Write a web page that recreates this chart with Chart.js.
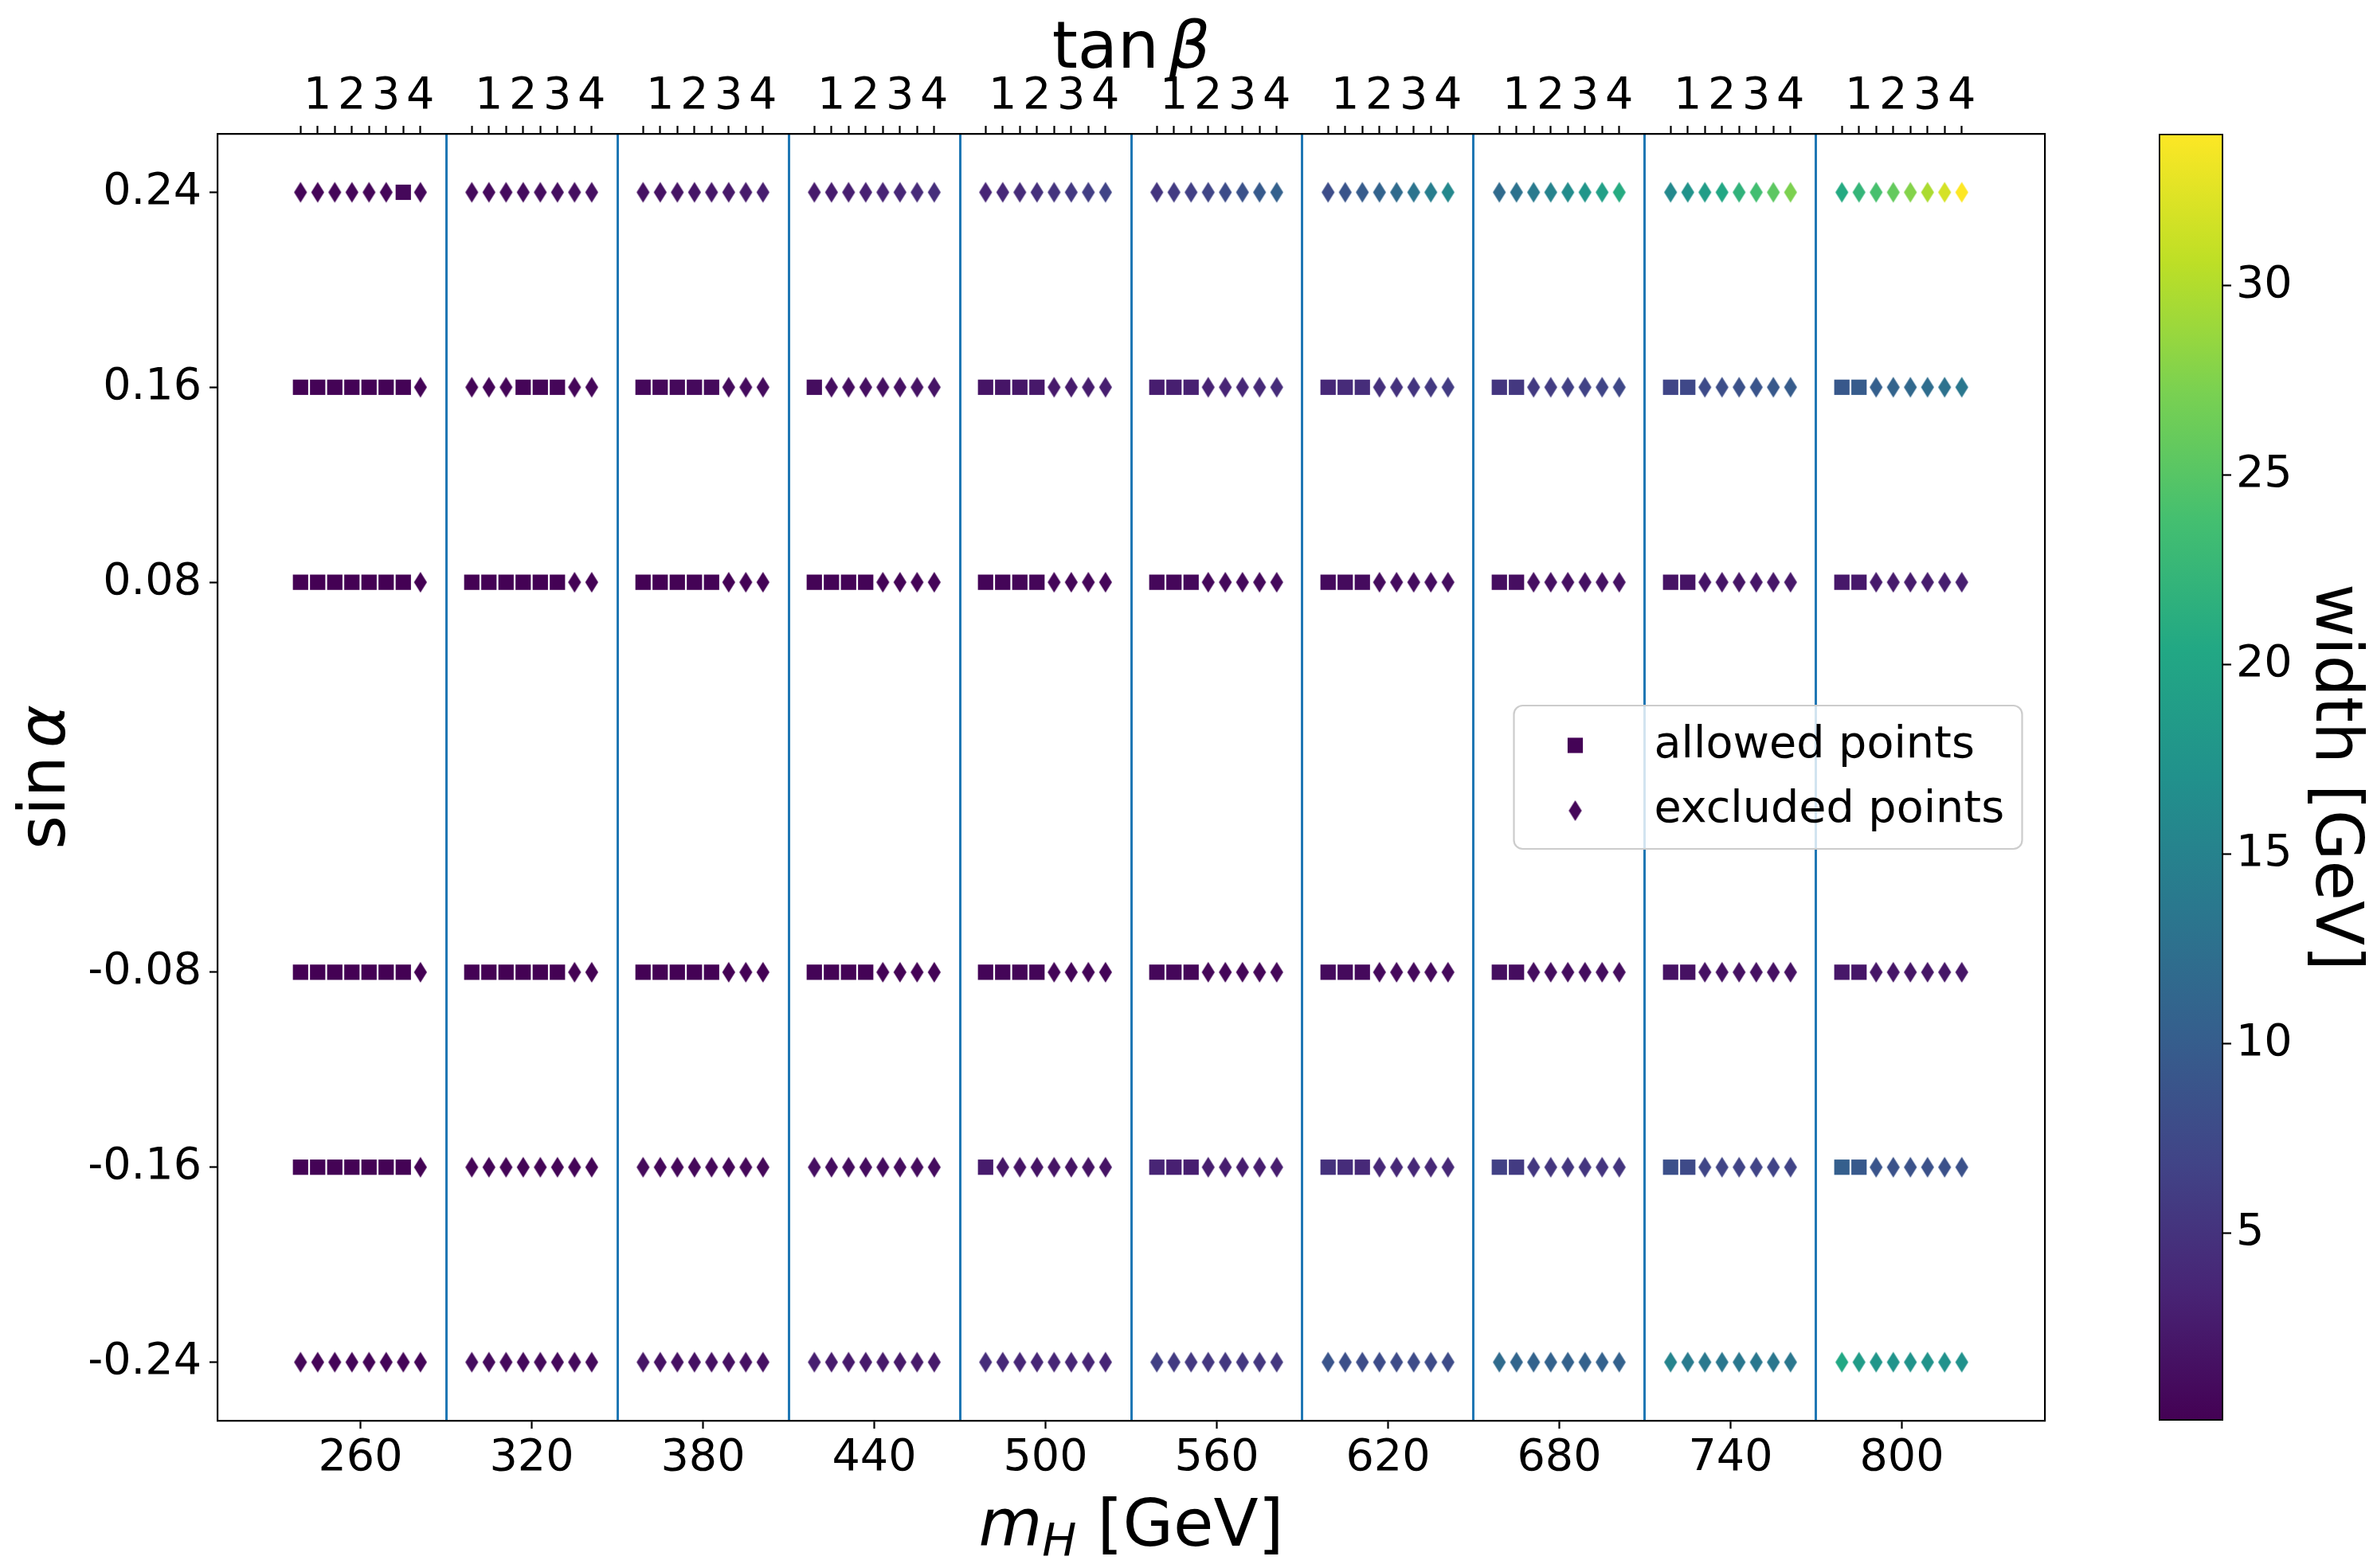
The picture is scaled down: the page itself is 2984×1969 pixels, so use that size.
<!DOCTYPE html>
<html>
<head>
<meta charset="utf-8">
<title>width scan</title>
<script src="https://cdn.jsdelivr.net/npm/chart.js@4.4.1/dist/chart.umd.min.js"></script>
<style>
html, body { margin: 0; padding: 0; background: #fff; overflow: hidden; }
#plot { position: absolute; left: 0; top: 0; }
#cbar { position: absolute; left: 2690px; top: 0; }
</style>
</head>
<body>
<canvas id="plot" width="2984" height="1969"></canvas>
<canvas id="cbar" width="294" height="1969"></canvas>
<script>
// scan grid
var masses = [260, 320, 380, 440, 500, 560, 620, 680, 740, 800];
var tanBeta = [0.5, 1, 1.5, 2, 2.5, 3, 3.5, 4];
var sinAlpha = [-0.24, -0.16, -0.08, 0.08, 0.16, 0.24];
var separators = [290, 350, 410, 470, 530, 590, 650, 710, 770];
var colorbarTicks = [5, 10, 15, 20, 25, 30];
var tanBetaSpread = 12; // GeV of x offset per unit of tan(beta) inside a mass block

// total width [GeV]: 8 tan(beta) values for each mass, one array per sin(alpha)
var widthM24 = [
	0.60, 0.50, 0.46, 0.45, 0.45, 0.45, 0.45, 0.45,
	1.15, 0.98, 0.92, 0.90, 0.90, 0.89, 0.89, 0.89,
	1.95, 1.70, 1.60, 1.57, 1.56, 1.56, 1.56, 1.56,
	2.95, 2.62, 2.50, 2.46, 2.45, 2.45, 2.44, 2.44,
	4.40, 3.95, 3.78, 3.73, 3.71, 3.70, 3.70, 3.70,
	6.40, 5.85, 5.62, 5.55, 5.53, 5.52, 5.52, 5.52,
	8.90, 8.20, 7.92, 7.84, 7.81, 7.80, 7.80, 7.80,
	11.9, 11.1, 10.8, 10.7, 10.65, 10.63, 10.62, 10.62,
	15.3, 14.1, 13.7, 13.55, 13.5, 13.48, 13.47, 13.47,
	20.4, 18.7, 17.8, 17.45, 17.3, 17.25, 17.22, 17.2
];
var widthM16 = [
	0.26, 0.22, 0.20, 0.20, 0.20, 0.20, 0.20, 0.20,
	0.50, 0.43, 0.40, 0.39, 0.39, 0.39, 0.39, 0.39,
	0.88, 0.76, 0.71, 0.70, 0.69, 0.69, 0.69, 0.69,
	1.45, 1.25, 1.17, 1.15, 1.14, 1.14, 1.14, 1.14,
	2.60, 2.05, 1.90, 1.86, 1.85, 1.85, 1.85, 1.85,
	3.50, 3.10, 2.90, 2.84, 2.82, 2.81, 2.80, 2.80,
	4.80, 4.30, 4.00, 3.92, 3.89, 3.88, 3.87, 3.87,
	6.50, 5.90, 5.50, 5.38, 5.33, 5.31, 5.30, 5.30,
	8.30, 7.60, 7.10, 6.95, 6.89, 6.86, 6.85, 6.85,
	10.3, 9.50, 8.85, 8.65, 8.57, 8.53, 8.51, 8.50
];
var widthM08 = [
	0.06, 0.05, 0.05, 0.05, 0.05, 0.05, 0.05, 0.05,
	0.11, 0.10, 0.10, 0.10, 0.10, 0.10, 0.10, 0.10,
	0.19, 0.18, 0.17, 0.17, 0.17, 0.17, 0.17, 0.17,
	0.31, 0.29, 0.28, 0.28, 0.28, 0.28, 0.28, 0.28,
	0.46, 0.43, 0.42, 0.42, 0.42, 0.42, 0.42, 0.42,
	0.66, 0.62, 0.60, 0.60, 0.60, 0.60, 0.60, 0.60,
	0.94, 0.89, 0.87, 0.86, 0.86, 0.86, 0.86, 0.86,
	1.28, 1.22, 1.19, 1.18, 1.18, 1.18, 1.18, 1.18,
	1.70, 1.62, 1.58, 1.57, 1.57, 1.57, 1.57, 1.57,
	2.20, 2.10, 2.05, 2.04, 2.04, 2.04, 2.04, 2.04
];
var widthP08 = [
	0.05, 0.05, 0.06, 0.06, 0.06, 0.07, 0.07, 0.08,
	0.10, 0.11, 0.11, 0.12, 0.12, 0.13, 0.14, 0.15,
	0.18, 0.19, 0.20, 0.21, 0.22, 0.23, 0.24, 0.26,
	0.30, 0.31, 0.33, 0.35, 0.37, 0.39, 0.41, 0.44,
	0.45, 0.47, 0.50, 0.53, 0.56, 0.59, 0.62, 0.66,
	0.65, 0.68, 0.72, 0.76, 0.80, 0.84, 0.88, 0.93,
	0.95, 0.99, 1.04, 1.09, 1.14, 1.19, 1.25, 1.31,
	1.30, 1.35, 1.41, 1.47, 1.54, 1.61, 1.68, 1.75,
	1.75, 1.81, 1.88, 1.96, 2.04, 2.12, 2.20, 2.29,
	2.30, 2.38, 2.47, 2.56, 2.66, 2.76, 2.86, 2.97
];
var widthP16 = [
	0.20, 0.21, 0.22, 0.24, 0.25, 0.27, 0.29, 0.31,
	0.40, 0.42, 0.45, 0.48, 0.51, 0.54, 0.58, 0.62,
	0.72, 0.76, 0.81, 0.86, 0.92, 0.98, 1.05, 1.12,
	1.20, 1.27, 1.35, 1.44, 1.54, 1.65, 1.76, 1.88,
	1.90, 2.01, 2.13, 2.27, 2.42, 2.58, 2.75, 2.93,
	2.80, 2.97, 3.15, 3.35, 3.57, 3.80, 4.05, 4.32,
	3.90, 4.14, 4.40, 4.68, 4.98, 5.30, 5.64, 6.00,
	5.30, 5.55, 5.80, 6.10, 6.40, 6.70, 7.00, 7.35,
	7.00, 7.35, 7.70, 8.10, 8.50, 8.90, 9.35, 9.80,
	9.30, 9.80, 10.3, 10.9, 11.5, 12.1, 12.8, 13.5
];
var widthP24 = [
	0.45, 0.48, 0.52, 0.56, 0.60, 0.65, 0.70, 0.76,
	0.90, 0.96, 1.03, 1.11, 1.20, 1.30, 1.41, 1.53,
	1.60, 1.72, 1.85, 2.00, 2.17, 2.36, 2.57, 2.80,
	2.50, 2.70, 2.93, 3.19, 3.48, 3.80, 4.15, 4.54,
	3.60, 3.92, 4.28, 4.68, 5.13, 5.63, 6.18, 6.80,
	5.30, 5.85, 6.45, 7.10, 7.85, 8.65, 9.55, 10.5,
	8.00, 8.85, 9.80, 10.8, 11.9, 13.1, 14.4, 15.8,
	11.8, 12.8, 13.9, 15.1, 16.4, 17.8, 19.3, 20.9,
	16.0, 17.3, 18.8, 20.3, 21.9, 23.6, 25.4, 27.3,
	20.7, 22.3, 24.0, 25.8, 27.7, 29.7, 31.8, 34.0
];

// 1 = allowed point, 0 = excluded point (one string per mass, tan(beta) left to right)
var allowedM24 = ['00000000', '00000000', '00000000', '00000000', '00000000', '00000000', '00000000', '00000000', '00000000', '00000000'];
var allowedM16 = ['11111110', '00000000', '00000000', '00000000', '10000000', '11100000', '11100000', '11000000', '11000000', '11000000'];
var allowedM08 = ['11111110', '11111100', '11111000', '11110000', '11110000', '11100000', '11100000', '11000000', '11000000', '11000000'];
var allowedP08 = ['11111110', '11111100', '11111000', '11110000', '11110000', '11100000', '11100000', '11000000', '11000000', '11000000'];
var allowedP16 = ['11111110', '00011100', '11111000', '10000000', '11110000', '11100000', '11100000', '11000000', '11000000', '11000000'];
var allowedP24 = ['00000010', '00000000', '00000000', '00000000', '00000000', '00000000', '00000000', '00000000', '00000000', '00000000'];

var widthRows = [widthM24, widthM16, widthM08, widthP08, widthP16, widthP24];
var allowedRows = [allowedM24, allowedM16, allowedM08, allowedP08, allowedP16, allowedP24];

var FAMILY = '"DejaVu Sans"';
var TICK_PX = 55.6;
var LABEL_PX = 82;

Chart.defaults.font.family = FAMILY;
Chart.defaults.font.size = TICK_PX;
Chart.defaults.color = '#000';

function blockX(m, tb) {
	return m + (tb - 2.25) * tanBetaSpread;
}

var allowedPts = [], excludedPts = [], allW = [];
sinAlpha.forEach(function(s, r) {
	masses.forEach(function(m, g) {
		tanBeta.forEach(function(tb, k) {
			var w = widthRows[r][g * tanBeta.length + k];
			allW.push(w);
			var p = { x: blockX(m, tb), y: s, w: w };
			if (allowedRows[r][g].charAt(k) === '1') allowedPts.push(p);
			else excludedPts.push(p);
		});
	});
});
var cbMin = Math.min.apply(null, allW);
var cbMax = Math.max.apply(null, allW);

var topTickX = [];
masses.forEach(function(m) {
	tanBeta.forEach(function(tb) { topTickX.push(blockX(m, tb)); });
});

// matplotlib-like axis limits (5% margin)
var xLo = topTickX[0], xHi = topTickX[topTickX.length - 1];
var xMin = xLo - 0.05 * (xHi - xLo), xMax = xHi + 0.05 * (xHi - xLo);
var yMin = -0.264, yMax = 0.264;

var VIRIDIS = ['#440154', '#482475', '#414487', '#355f8d', '#2a788e', '#21918c', '#22a884', '#44bf70', '#7ad151', '#bddf26', '#fde725'];
function hexRgb(h) {
	return [parseInt(h.substr(1, 2), 16), parseInt(h.substr(3, 2), 16), parseInt(h.substr(5, 2), 16)];
}
function viridis(t) {
	t = Math.max(0, Math.min(1, t));
	var i = Math.min(9, Math.floor(t * 10)), f = t * 10 - i;
	var a = hexRgb(VIRIDIS[i]), b = hexRgb(VIRIDIS[i + 1]);
	return 'rgb(' + [0, 1, 2].map(function(k) { return Math.round(a[k] + (b[k] - a[k]) * f); }).join(',') + ')';
}
function widthColor(w) {
	return viridis((w - cbMin) / (cbMax - cbMin));
}

var diamondCache = {};
function thinDiamond(color) {
	if (!diamondCache[color]) {
		var cv = document.createElement('canvas');
		cv.width = 18;
		cv.height = 28;
		var g = cv.getContext('2d');
		g.fillStyle = color;
		g.beginPath();
		g.moveTo(9, 1);
		g.lineTo(17.15, 14);
		g.lineTo(9, 27);
		g.lineTo(0.85, 14);
		g.closePath();
		g.fill();
		diamondCache[color] = cv;
	}
	return diamondCache[color];
}

function fixedTicks(values) {
	return function(scale) {
		scale.ticks = values.map(function(v) { return { value: v }; });
	};
}
var tickGrid = { drawOnChartArea: false, tickLength: 10, tickWidth: 2.2, tickColor: '#000' };
var frame = { color: '#000', width: 2.2 };

// text pieces with own font: [text, font, dy, gapBefore]
function drawParts(c, parts, x, y) {
	var total = 0;
	parts.forEach(function(p) {
		c.font = p[1];
		p.w = c.measureText(p[0]).width;
		total += p.w + (p[3] || 0);
	});
	var cx = x - total / 2;
	c.textAlign = 'left';
	c.textBaseline = 'alphabetic';
	parts.forEach(function(p) {
		cx += p[3] || 0;
		c.font = p[1];
		c.fillText(p[0], cx, y + (p[2] || 0));
		cx += p.w;
	});
}

var decor = {
	id: 'decor',
	afterDraw: function(chart) {
		var c = chart.ctx, a = chart.chartArea;
		var cx = (a.left + a.right) / 2, cy = (a.top + a.bottom) / 2;
		var reg = LABEL_PX + 'px ' + FAMILY, ita = 'italic ' + LABEL_PX + 'px ' + FAMILY;
		c.save();
		c.fillStyle = '#000';
		drawParts(c, [['m', ita], ['H', 'italic ' + (LABEL_PX * 0.7) + 'px ' + FAMILY, 13], [' [GeV]', reg]], cx, 1941);
		drawParts(c, [['tan', reg], ['\u03b2', ita, 0, 12]], cx, 85);
		c.save();
		c.translate(81, cy);
		c.rotate(-Math.PI / 2);
		drawParts(c, [['sin', reg], ['\u03b1', ita, 0, 10]], 0, 0);
		c.restore();

		// legend, centre right
		var lw = 638, lh = 180, lx = a.right - 28.5 - lw, ly = cy - lh / 2;
		c.beginPath();
		c.roundRect(lx, ly, lw, lh, 11);
		c.fillStyle = 'rgba(255,255,255,0.8)';
		c.fill();
		c.lineWidth = 2.2;
		c.strokeStyle = '#cccccc';
		c.stroke();
		var mx = lx + 77;
		c.fillStyle = widthColor(allowedPts[0].w);
		c.fillRect(mx - 9.6, cy - 40 - 9.6, 19.2, 19.2);
		c.drawImage(thinDiamond(widthColor(excludedPts[0].w)), mx - 9, cy + 42 - 14);
		c.fillStyle = '#000';
		c.font = TICK_PX + 'px ' + FAMILY;
		c.textAlign = 'left';
		c.textBaseline = 'alphabetic';
		c.fillText('allowed points', lx + 176, cy - 25);
		c.fillText('excluded points', lx + 176, cy + 56);
		c.restore();
	}
};

new Chart(document.getElementById('plot'), {
	type: 'scatter',
	data: {
		datasets: [{
			label: 'allowed points',
			data: allowedPts,
			pointStyle: 'rect',
			pointRadius: 13.6,
			pointBorderWidth: 0,
			pointBackgroundColor: function(ctx) { return ctx.raw ? widthColor(ctx.raw.w) : VIRIDIS[0]; }
		}, {
			label: 'excluded points',
			data: excludedPts,
			pointStyle: function(ctx) { return thinDiamond(ctx.raw ? widthColor(ctx.raw.w) : VIRIDIS[0]); },
			pointRadius: 13,
			pointBorderWidth: 0
		}]
	},
	options: {
		responsive: false,
		animation: false,
		events: [],
		layout: { padding: { left: 113, top: 68, right: 417, bottom: 85 } },
		scales: {
			x: {
				type: 'linear', position: 'bottom', min: xMin, max: xMax,
				afterBuildTicks: fixedTicks(masses),
				afterFit: function(s) { s.height = 100; },
				ticks: { padding: 4, maxRotation: 0, autoSkip: false, callback: function(v) { return String(v); } },
				grid: tickGrid, border: frame
			},
			sep: {
				type: 'linear', axis: 'x', position: 'bottom', min: xMin, max: xMax,
				afterBuildTicks: fixedTicks(separators),
				afterFit: function(s) { s.height = 0; },
				ticks: { display: false },
				grid: { color: '#1f77b4', lineWidth: 3, drawTicks: false, drawOnChartArea: true },
				border: { display: false }
			},
			x2: {
				type: 'linear', axis: 'x', position: 'top', min: xMin, max: xMax,
				afterBuildTicks: fixedTicks(topTickX),
				afterFit: function(s) { s.height = 100; },
				ticks: {
					padding: 3, maxRotation: 0, minRotation: 0, autoSkip: false,
					callback: function(v, i) {
						var tb = tanBeta[i % tanBeta.length];
						return tb % 1 === 0 ? String(tb) : '';
					}
				},
				grid: tickGrid, border: frame
			},
			y: {
				type: 'linear', position: 'left', min: yMin, max: yMax,
				afterBuildTicks: fixedTicks(sinAlpha),
				afterFit: function(s) { s.width = 160; },
				ticks: { padding: 10, callback: function(v) { return v.toFixed(2); } },
				grid: tickGrid, border: frame
			},
			y2: {
				type: 'linear', axis: 'y', position: 'right', min: yMin, max: yMax,
				afterFit: function(s) { s.width = 0; },
				ticks: { display: false },
				grid: { drawOnChartArea: false, drawTicks: false },
				border: frame
			}
		},
		plugins: { legend: { display: false }, tooltip: { enabled: false } }
	},
	plugins: [decor]
});

// colour bar
new Chart(document.getElementById('cbar'), {
	type: 'bar',
	data: {
		labels: ['width'],
		datasets: [{
			data: [[cbMin, cbMax]],
			backgroundColor: function(ctx) {
				var a = ctx.chart.chartArea;
				if (!a) return VIRIDIS[0];
				var g = ctx.chart.ctx.createLinearGradient(0, a.bottom, 0, a.top);
				VIRIDIS.forEach(function(col, i) { g.addColorStop(i / 10, col); });
				return g;
			},
			borderColor: '#000',
			borderWidth: 2.2,
			borderSkipped: false,
			barPercentage: 1,
			categoryPercentage: 1
		}]
	},
	options: {
		responsive: false,
		animation: false,
		events: [],
		layout: { padding: { left: 20, top: 168, right: 0, bottom: 185 } },
		scales: {
			x: { display: false },
			y: {
				position: 'right', min: cbMin, max: cbMax,
				afterBuildTicks: fixedTicks(colorbarTicks),
				afterFit: function(s) { s.width = 193; },
				ticks: { padding: 6 },
				grid: tickGrid,
				border: { display: false },
				title: { display: true, text: 'width [GeV]', font: { size: LABEL_PX }, padding: { top: 6, bottom: 0 } }
			}
		},
		plugins: { legend: { display: false }, tooltip: { enabled: false } }
	}
});
</script>
</body>
</html>
